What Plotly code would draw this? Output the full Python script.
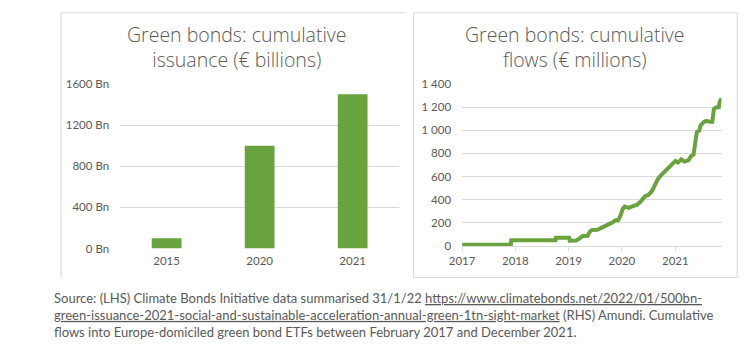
import plotly.graph_objects as go

# Left panel: cumulative green bond issuance (EUR billions)
issuance_years = ["2015", "2020", "2021"]
issuance_bn = [100, 1000, 1500]
issuance_ticks = [0, 400, 800, 1200, 1600]
issuance_ticklabels = ["0 Bn", "400 Bn", "800 Bn", "1200 Bn", "1600 Bn"]

# Right panel: cumulative flows into Europe-domiciled green bond ETFs (EUR millions)
flow_dates = [
    "2017-01-01", "2017-12-01", "2017-12-04", "2018-10-03", "2018-10-06",
    "2019-01-04", "2019-01-08", "2019-02-21", "2019-03-15", "2019-04-07",
    "2019-05-11", "2019-05-27", "2019-06-10", "2019-07-17", "2019-08-20",
    "2019-10-04", "2019-10-27", "2019-11-18", "2019-12-06", "2019-12-22",
    "2020-01-06", "2020-01-20", "2020-02-16", "2020-03-21", "2020-04-12",
    "2020-05-05", "2020-06-08", "2020-06-30", "2020-07-23", "2020-08-14",
    "2020-09-01", "2020-09-24", "2020-10-21", "2020-11-12", "2020-12-16",
    "2021-01-01", "2021-01-19", "2021-02-10", "2021-03-04", "2021-03-31",
    "2021-04-18", "2021-05-06", "2021-05-15", "2021-05-28", "2021-06-13",
    "2021-06-24", "2021-07-17", "2021-08-03", "2021-08-26", "2021-09-11",
    "2021-09-22", "2021-10-10", "2021-10-25", "2021-11-01", "2021-11-13",
]
flow_values = [
    10, 10, 50, 50, 72,
    72, 45, 47, 64, 86,
    88, 125, 139, 140, 161,
    186, 202, 222, 222, 263,
    319, 341, 330, 346, 355,
    380, 430, 441, 471, 527,
    574, 610, 646, 679, 715,
    735, 721, 748, 729, 740,
    776, 790, 873, 984, 998,
    1045, 1073, 1081, 1073, 1073,
    1184, 1200, 1200, 1247, 1275,
]
flow_ticks = [0, 200, 400, 600, 800, 1000, 1200, 1400]
flow_ticklabels = ["0", "200", "400", "600", "800", "1 000", "1 200", "1 400"]
year_ticks = ["2017-01-01", "2018-01-01", "2019-01-01", "2020-01-01", "2021-01-01"]
year_labels = ["2017", "2018", "2019", "2020", "2021"]

W, H = 750, 347
GREEN = "#69a33d"
TEXT = "#595959"
GRID = "#d9d9d9"
TICK_FONT = dict(family="Lato, 'Open Sans', sans-serif", size=11.5, color=TEXT)
TITLE_FONT = dict(family="'Open Sans', Lato, sans-serif", size=19.5, color=TEXT, weight=300)


def px_x(v):
    """Pixel x -> paper fraction."""
    return v / W


def px_y(v):
    """Pixel y (from top) -> paper fraction."""
    return 1 - v / H


fig = go.Figure()

fig.add_trace(go.Bar(
    x=issuance_years, y=issuance_bn, marker=dict(color=GREEN, line=dict(width=0)),
    xaxis="x", yaxis="y", showlegend=False,
))

fig.add_trace(go.Scatter(
    x=flow_dates, y=flow_values, mode="lines",
    line=dict(color=GREEN, width=4),
    xaxis="x2", yaxis="y2", showlegend=False,
))

fig.update_layout(
    width=W, height=H,
    margin=dict(l=0, r=0, t=0, b=0),
    paper_bgcolor="white", plot_bgcolor="white",
    bargap=0.68,
    xaxis=dict(
        domain=[px_x(109), px_x(393)], anchor="y",
        type="category", showgrid=False, showline=False, zeroline=False,
        ticks="", tickfont=TICK_FONT, ticklabelstandoff=4,
    ),
    yaxis=dict(
        domain=[px_y(251), px_y(80)], anchor="x",
        range=[0, 1600], tickvals=issuance_ticks, ticktext=issuance_ticklabels,
        showgrid=True, gridcolor=GRID, gridwidth=1, zeroline=False,
        showline=False, ticks="", tickfont=TICK_FONT, ticklabelstandoff=10,
    ),
    xaxis2=dict(
        domain=[px_x(457), px_x(721)], anchor="y2",
        type="date", range=["2017-01-01", "2021-11-13"],
        tickvals=year_ticks, ticktext=year_labels,
        showgrid=False, zeroline=False,
        showline=True, linecolor=GRID, linewidth=1,
        ticks="outside", ticklen=4, tickcolor=GRID,
        tickfont=TICK_FONT,
    ),
    yaxis2=dict(
        domain=[px_y(248.3), px_y(80)], anchor="x2",
        range=[0, 1400], tickvals=flow_ticks, ticktext=flow_ticklabels,
        showgrid=True, gridcolor=GRID, gridwidth=1, zeroline=False,
        showline=False, ticks="", tickfont=TICK_FONT, ticklabelstandoff=10,
    ),
)

# Panel frames
fig.add_shape(type="line", xref="paper", yref="paper",
              x0=px_x(49), x1=px_x(49), y0=px_y(6), y1=px_y(282),
              line=dict(color=GRID, width=1))
fig.add_shape(type="line", xref="paper", yref="paper",
              x0=px_x(49), x1=px_x(400), y0=px_y(6), y1=px_y(6),
              line=dict(color=GRID, width=1))
fig.add_shape(type="rect", xref="paper", yref="paper",
              x0=px_x(407.5), x1=px_x(737), y0=px_y(6), y1=px_y(281),
              line=dict(color=GRID, width=1), fillcolor="rgba(0,0,0,0)")

# Panel titles
titles = [
    ("Green bonds: cumulative<br>issuance (€ billions)", 228),
    ("Green bonds: cumulative<br>flows (€ millions)", 572),
]
for txt, cx in titles:
    fig.add_annotation(text=txt, xref="paper", yref="paper",
                       x=px_x(cx), y=px_y(41.5), xanchor="center", yanchor="middle",
                       showarrow=False, font=TITLE_FONT, align="center")

# Source note
UL = "<span style='text-decoration:underline'>"
source_text = (
    "Source: (LHS) Climate Bonds Initiative data summarised 31/1/22 "
    + UL + "https://www.climatebonds.net/2022/01/500bn-</span><br>"
    + UL + "green-issuance-2021-social-and-sustainable-acceleration-annual-green-1tn-sight-market</span>"
    + " (RHS) Amundi. Cumulative<br>"
    + "flows into Europe-domiciled green bond ETFs between February 2017 and December 2021."
)
fig.add_annotation(text=source_text, xref="paper", yref="paper",
                   x=px_x(40), y=px_y(320), xanchor="left", yanchor="middle",
                   showarrow=False, align="left",
                   font=dict(family="Lato, 'Open Sans', sans-serif", size=13, color=TEXT))

fig.write_html("out.html")
